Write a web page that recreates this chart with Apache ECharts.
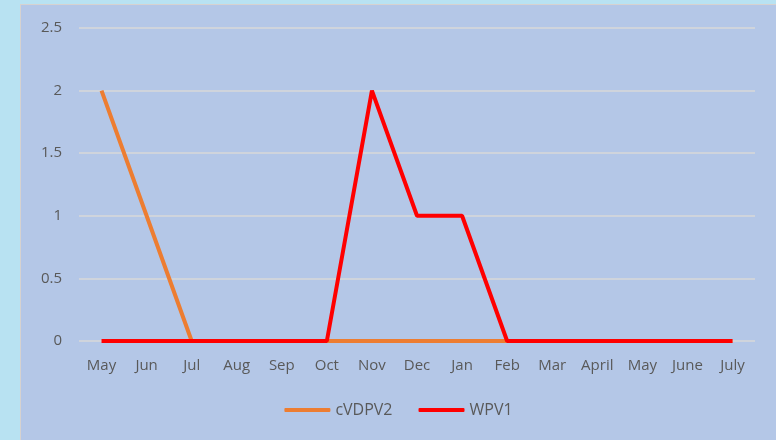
<!DOCTYPE html>
<html>
<head>
<meta charset="utf-8">
<script src="https://cdn.jsdelivr.net/npm/echarts@6/dist/echarts.min.js"></script>
<style>
  html, body { margin: 0; padding: 0; width: 776px; height: 440px; background: #b8e2f2; overflow: hidden; }
  #chart { position: absolute; left: 20px; top: 4px; width: 755px; height: 436px; background: #b4c7e7; border-top: 1px solid #d6d2d0; border-left: 1px solid #d6d2d0; }
</style>
</head>
<body>
<div id="chart"></div>
<script>
const months = ['May', 'Jun', 'Jul', 'Aug', 'Sep', 'Oct', 'Nov', 'Dec', 'Jan', 'Feb', 'Mar', 'April', 'May', 'June', 'July']
const cVDPV2 = [2, 1, 0, 0, 0, 0, 0, 0, 0, 0, 0, 0, 0, 0, 0]
const WPV1 = [0, 0, 0, 0, 0, 0, 2, 1, 1, 0, 0, 0, 0, 0, 0]

const labelFont = "'Open Sans', 'Liberation Sans', sans-serif"

const chart = echarts.init(document.getElementById('chart'))
chart.setOption({
  animation: false,
  grid: { left: 58, right: 21, top: 23, bottom: 100 },
  legend: {
    bottom: 18,
    left: 'center',
    itemWidth: 46,
    itemHeight: 4,
    itemGap: 26,
    icon: 'roundRect',
    textStyle: { color: '#595959', fontSize: 16, fontFamily: labelFont },
    data: ['cVDPV2', 'WPV1']
  },
  xAxis: {
    type: 'category',
    data: months,
    boundaryGap: true,
    axisLine: { show: false },
    axisTick: { show: false },
    axisLabel: { color: '#595959', fontSize: 15, fontFamily: labelFont, margin: 17, interval: 0 }
  },
  yAxis: {
    type: 'value',
    min: 0,
    max: 2.5,
    interval: 0.5,
    axisLine: { show: false },
    axisTick: { show: false },
    axisLabel: { color: '#595959', fontSize: 15, fontFamily: labelFont, margin: 17 },
    splitLine: { lineStyle: { color: '#d9d9d9', width: 1.5 } }
  },
  series: [
    {
      name: 'cVDPV2',
      type: 'line',
      data: cVDPV2,
      symbol: 'none',
      color: '#ed7d31',
      lineStyle: { width: 4, color: '#ed7d31' }
    },
    {
      name: 'WPV1',
      type: 'line',
      data: WPV1,
      symbol: 'none',
      color: '#ff0000',
      lineStyle: { width: 4, color: '#ff0000' }
    }
  ]
})
</script>
</body>
</html>
